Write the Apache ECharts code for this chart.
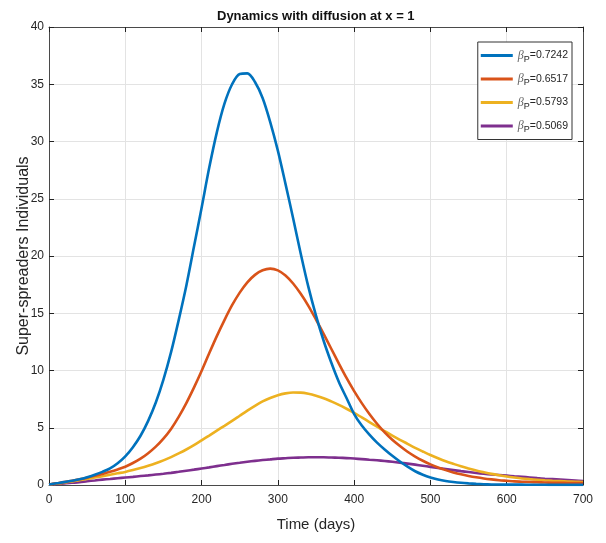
<!DOCTYPE html>
<html>
<head>
<meta charset="utf-8">
<script src="https://cdn.jsdelivr.net/npm/echarts@6/dist/echarts.min.js"></script>
<style>
  html, body { margin: 0; padding: 0; background: #fff; }
  #chart { width: 606px; height: 543px; }
</style>
</head>
<body>
<div id="chart"></div>
<script>
// Sampling times: every 10 days from 0 to 700
const days = Array.from({ length: 71 }, (_, i) => i * 10);

// Transmission rates of super-spreaders
const betaValues = ['0.7242', '0.6517', '0.5793', '0.5069'];

// Super-spreader counts at x = 1 for each beta_P (one value per sampling time)
const superBeta1 = [
  0.05, 0.15, 0.25, 0.37, 0.5, 0.68, 0.9, 1.15, 1.45, 1.9,
  2.5, 3.3, 4.3, 5.6, 7.2, 9.2, 11.6, 14.4, 17.4, 20.8,
  24.2, 27.7, 30.8, 33.3, 35.0, 35.9, 35.95, 35.2, 33.8, 31.7,
  29.2, 26.3, 23.3, 20.2, 17.3, 14.8, 12.6, 10.7, 9.0, 7.6,
  6.2, 5.2, 4.4, 3.7, 3.1, 2.55, 2.05, 1.6, 1.2, 0.9,
  0.66, 0.48, 0.35, 0.26, 0.19, 0.14, 0.1, 0.07, 0.05, 0.04,
  0.03, 0.03, 0.03, 0.02, 0.02, 0.02, 0.01, 0.01, 0.01, 0.01, 0.01
];
const superBeta2 = [
  0.05, 0.15, 0.25, 0.37, 0.5, 0.64, 0.8, 0.97, 1.15, 1.36,
  1.6, 1.92, 2.3, 2.78, 3.35, 4.05, 4.9, 5.95, 7.15, 8.5,
  9.95, 11.5, 13.0, 14.4, 15.7, 16.8, 17.7, 18.35, 18.75, 18.9,
  18.75, 18.3, 17.6, 16.7, 15.65, 14.45, 13.2, 11.9, 10.6, 9.35,
  8.2, 7.15, 6.2, 5.35, 4.6, 3.95, 3.4, 2.9, 2.48, 2.12,
  1.8, 1.53, 1.3, 1.1, 0.93, 0.79, 0.67, 0.57, 0.49, 0.42,
  0.37, 0.32, 0.29, 0.26, 0.24, 0.22, 0.2, 0.19, 0.18, 0.17, 0.16
];
const superBeta3 = [
  0.05, 0.12, 0.2, 0.3, 0.42, 0.53, 0.65, 0.77, 0.9, 1.02,
  1.14, 1.3, 1.48, 1.68, 1.9, 2.15, 2.44, 2.76, 3.1, 3.48,
  3.9, 4.32, 4.75, 5.17, 5.6, 6.05, 6.5, 6.92, 7.3, 7.6,
  7.84, 8.0, 8.08, 8.07, 7.97, 7.8, 7.58, 7.3, 7.0, 6.66,
  6.3, 5.9, 5.5, 5.1, 4.7, 4.32, 3.95, 3.6, 3.25, 2.93,
  2.62, 2.34, 2.08, 1.85, 1.63, 1.44, 1.26, 1.11, 0.97, 0.85,
  0.74, 0.65, 0.57, 0.51, 0.46, 0.41, 0.37, 0.34, 0.31, 0.28, 0.26
];
const superBeta4 = [
  0.05, 0.09, 0.13, 0.19, 0.25, 0.33, 0.4, 0.47, 0.53, 0.59,
  0.65, 0.71, 0.78, 0.84, 0.91, 0.98, 1.06, 1.15, 1.25, 1.34,
  1.44, 1.54, 1.65, 1.75, 1.85, 1.94, 2.03, 2.11, 2.18, 2.24,
  2.3, 2.34, 2.38, 2.4, 2.42, 2.42, 2.42, 2.4, 2.38, 2.35,
  2.31, 2.26, 2.21, 2.16, 2.1, 2.03, 1.95, 1.87, 1.78, 1.68,
  1.58, 1.48, 1.39, 1.3, 1.21, 1.13, 1.05, 0.98, 0.92, 0.87,
  0.82, 0.76, 0.71, 0.66, 0.6, 0.55, 0.51, 0.47, 0.43, 0.39, 0.35
];

const seriesValues = [superBeta1, superBeta2, superBeta3, superBeta4];
const lineColors = ['#0072BD', '#D95319', '#EDB120', '#7E2F8E'];

const labelFont = "'Liberation Sans', Arial, sans-serif";
const frameColor = '#4a4a4a';
const gridColor = '#e3e3e3';

const chart = echarts.init(document.getElementById('chart'), null, { renderer: 'canvas' });

const series = seriesValues.map((vals, i) => ({
  name: 'beta' + i,
  type: 'line',
  data: days.map((d, k) => [d, vals[k]]),
  smooth: 0.3,
  showSymbol: false,
  symbol: 'none',
  lineStyle: { color: lineColors[i], width: 2.6 },
  itemStyle: { color: lineColors[i] },
  z: 10 - i
}));

const frameAxisX = (pos, showLabels) => ({
  type: 'value', min: 0, max: 700, interval: 100, position: pos,
  axisLine: { show: true, onZero: false, lineStyle: { color: frameColor, width: 1 } },
  axisTick: { show: true, inside: true, length: 5, lineStyle: { color: '#222', width: 1 } },
  axisLabel: { show: showLabels, color: '#262626', fontFamily: labelFont, fontSize: 12, margin: 9 },
  splitLine: { show: showLabels, lineStyle: { color: gridColor, width: 1 } }
});
const frameAxisY = (pos, showLabels) => ({
  type: 'value', min: 0, max: 40, interval: 5, position: pos,
  axisLine: { show: true, onZero: false, lineStyle: { color: frameColor, width: 1 } },
  axisTick: { show: true, inside: true, length: 5, lineStyle: { color: '#222', width: 1 } },
  axisLabel: { show: showLabels, color: '#262626', fontFamily: labelFont, fontSize: 12, margin: 5 },
  splitLine: { show: showLabels, lineStyle: { color: gridColor, width: 1 } }
});

const xBottom = Object.assign(frameAxisX('bottom', true), {
  name: 'Time (days)', nameLocation: 'middle', nameGap: 32, nameMoveOverlap: false,
  nameTextStyle: { color: '#262626', fontFamily: labelFont, fontSize: 15 }
});
const yLeft = Object.assign(frameAxisY('left', true), {
  name: 'Super-spreaders Individuals', nameLocation: 'middle', nameGap: 17, nameMoveOverlap: false,
  nameTextStyle: { color: '#262626', fontFamily: labelFont, fontSize: 16 }
});

chart.setOption({
  animation: false,
  backgroundColor: '#ffffff',
  title: {
    text: 'Dynamics with diffusion at x = 1',
    left: 212, top: 5,
    textStyle: { fontFamily: labelFont, fontWeight: 'bold', fontSize: 13, color: '#111' }
  },
  grid: { left: 49, right: 23, top: 27, bottom: 58, containLabel: false, outerBoundsMode: 'none' },
  xAxis: [xBottom, frameAxisX('top', false)],
  yAxis: [yLeft, frameAxisY('right', false)],
  legend: {
    orient: 'vertical',
    right: 34, top: 42,
    padding: [6, 4, 5, 3],
    itemGap: 7.5,
    itemWidth: 32,
    itemHeight: 3,
    itemTextGap: 2,
    icon: 'rect',
    backgroundColor: '#ffffff',
    borderColor: '#333',
    borderWidth: 1,
    borderRadius: 0,
    data: series.map(s => s.name),
    formatter: name => {
      const i = Number(name.replace('beta', ''));
      return '{b|β}{s|P}{v|=' + betaValues[i] + '}';
    },
    textStyle: {
      color: '#262626',
      fontFamily: labelFont,
      fontSize: 11,
      rich: {
        b: { fontStyle: 'italic', fontSize: 12, color: '#666', fontFamily: "'Liberation Serif', serif", lineHeight: 17, verticalAlign: 'middle' },
        s: { fontSize: 9, color: '#262626', fontFamily: labelFont, lineHeight: 17, verticalAlign: 'bottom', padding: [7, 0, 0, 0] },
        v: { fontSize: 10.5, color: '#262626', fontFamily: labelFont, lineHeight: 17, verticalAlign: 'middle' }
      }
    }
  },
  series: series
});
</script>
</body>
</html>
